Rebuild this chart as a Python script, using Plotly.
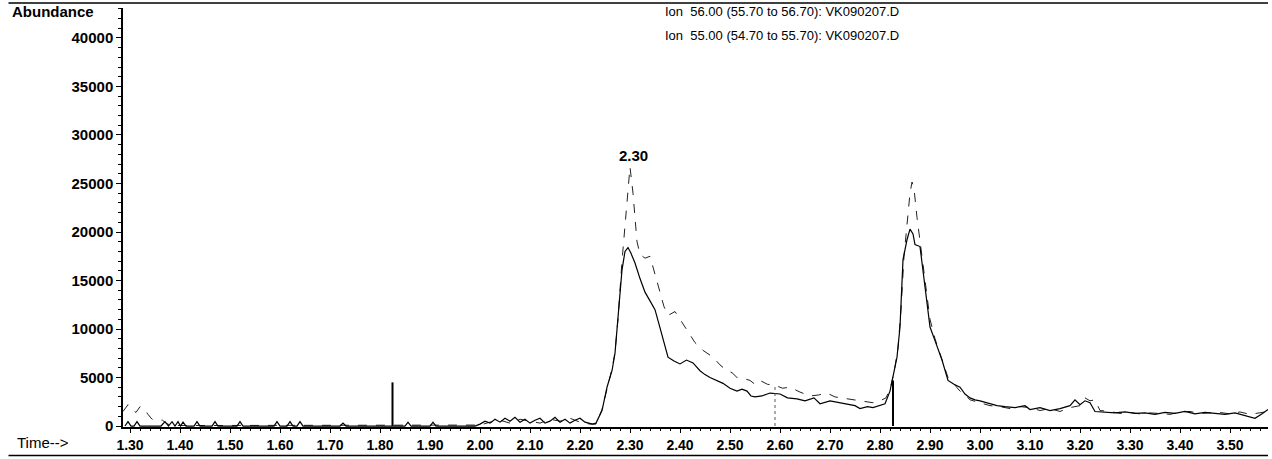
import plotly.graph_objects as go

# ---- data ----
ion55_time = [1.290, 1.296, 1.302, 1.308, 1.314, 1.320, 1.362, 1.370, 1.377, 1.384, 1.390, 1.396, 1.401,
              1.406, 1.412, 1.428, 1.434, 1.440, 1.464, 1.470, 1.476, 1.514, 1.520, 1.526, 1.588, 1.594,
              1.600, 1.614, 1.620, 1.626, 1.634, 1.640, 1.646, 1.720, 1.726, 1.732, 1.850, 1.856, 1.862,
              1.900, 1.906, 1.912, 1.990,
              2.00, 2.01, 2.02, 2.03, 2.04, 2.05, 2.06, 2.07, 2.08, 2.09, 2.10, 2.11, 2.12, 2.13, 2.14,
              2.15, 2.16, 2.17, 2.18, 2.19, 2.20, 2.21, 2.22, 2.225, 2.232,
              2.244, 2.254, 2.264, 2.270, 2.276, 2.284, 2.290, 2.296, 2.302, 2.31, 2.32, 2.33, 2.34, 2.35,
              2.358, 2.366, 2.376, 2.388, 2.40, 2.413, 2.426, 2.44, 2.45, 2.46, 2.473, 2.486, 2.50, 2.514,
              2.524, 2.534, 2.542, 2.55, 2.564, 2.58, 2.60, 2.615, 2.634, 2.65, 2.668, 2.68, 2.70, 2.72,
              2.734, 2.75, 2.76, 2.775, 2.786, 2.80, 2.81, 2.82, 2.826, 2.834, 2.84, 2.846, 2.854, 2.86,
              2.866, 2.87, 2.88, 2.89, 2.90, 2.91, 2.924, 2.936, 2.948, 2.96, 2.97, 2.98, 2.99, 3.00,
              3.02, 3.034, 3.05, 3.07, 3.09, 3.10, 3.12, 3.14, 3.16, 3.18, 3.19, 3.20, 3.21, 3.22, 3.23,
              3.25, 3.27, 3.29, 3.31, 3.33, 3.35, 3.37, 3.39, 3.41, 3.43, 3.45, 3.47, 3.49, 3.51, 3.53,
              3.55, 3.565, 3.576]
ion55_abund = [0, 450, 0, 0, 450, 0, 0, 450, 0, 450, 0, 450, 0,
               400, 0, 0, 450, 0, 0, 450, 0, 0, 450, 0, 0, 450,
               0, 0, 450, 0, 0, 450, 0, 0, 300, 0, 0, 400, 0,
               0, 400, 0, 0,
               200, 500, 300, 700, 400, 800, 500, 900, 400, 700, 300, 600, 800, 300, 500,
               900, 400, 700, 300, 600, 800, 400, 300, 200, 300,
               1600, 4000, 5700, 7500, 10900, 16100, 18000, 18400, 17800, 16800, 15200, 13800, 12900, 12000,
               10500, 9100, 7100, 6700, 6400, 6800, 6500, 5700, 5300, 5000, 4700, 4400, 3900, 3600,
               3800, 3600, 3100, 3000, 3100, 3400, 3300, 2900, 2800, 2600, 2900, 2300, 2600, 2400,
               2300, 2100, 1800, 2000, 1900, 2100, 2300, 3600, 5000, 7100, 10200, 17150, 19200, 20300,
               19800, 18700, 18500, 14500, 10200, 8800, 6800, 4700, 4300, 4000, 3300, 2900, 2700, 2600,
               2300, 2100, 2000, 1900, 2100, 1700, 1900, 1600, 1800, 2100, 2700, 2200, 2600, 2400, 1500,
               1400, 1350, 1450, 1300, 1350, 1200, 1400, 1300, 1500, 1250, 1400, 1300, 1200, 1350, 1100,
               800, 1300, 1700]

ion56_time = [1.286, 1.296, 1.304, 1.312, 1.320, 1.328, 1.336, 1.344, 1.355, 1.365, 1.372, 1.380,
              1.40, 1.60, 1.80, 2.00, 2.02, 2.04, 2.06, 2.08, 2.10, 2.12, 2.14, 2.16, 2.18, 2.20, 2.22,
              2.232, 2.244, 2.254, 2.264, 2.27, 2.276, 2.284, 2.292, 2.300, 2.306, 2.314, 2.32, 2.33,
              2.34, 2.35, 2.36, 2.368, 2.376, 2.39, 2.40, 2.406, 2.418, 2.43, 2.446, 2.466, 2.48, 2.494,
              2.504, 2.514, 2.527, 2.54, 2.55, 2.56, 2.575, 2.59, 2.605, 2.62, 2.64, 2.66, 2.677, 2.694,
              2.71, 2.734, 2.75, 2.77, 2.786, 2.80, 2.812, 2.82, 2.828, 2.836, 2.842, 2.848, 2.854,
              2.86, 2.864, 2.868, 2.874, 2.88, 2.89, 2.90, 2.91, 2.924, 2.936, 2.95, 2.96, 2.97, 2.98,
              3.00, 3.02, 3.04, 3.06, 3.08, 3.10, 3.12, 3.14, 3.16, 3.18, 3.20, 3.21, 3.22, 3.23, 3.24,
              3.26, 3.28, 3.30, 3.32, 3.34, 3.36, 3.38, 3.40, 3.42, 3.44, 3.46, 3.48, 3.50, 3.52, 3.54,
              3.56, 3.576]
ion56_abund = [1500, 2200, 1700, 1400, 2000, 1800, 1200, 700, 650, 600, 300, 100,
               50, 50, 50, 100, 400, 600, 300, 700, 500, 300, 700, 500, 800, 400, 200,
               200, 1700, 3900, 5900, 7600, 11000, 17000, 22000, 26700, 24000, 19000, 17700, 17300,
               17500, 15500, 13800, 12300, 11400, 11800, 11000, 10600, 9500, 8600, 7800, 7100, 6300, 5700,
               5500, 5000, 4900, 4700, 4300, 4700, 4300, 4200, 3900, 4000, 3500, 3100, 3200, 3400,
               3000, 2800, 2700, 2500, 2400, 2600, 2900, 3800, 5500, 8000, 12000, 17500, 21000,
               24000, 25150, 24500, 21500, 19000, 15000, 11000, 9000, 6900, 5000, 4200, 3600, 3200, 2700,
               2400, 2100, 2000, 1800, 2000, 1900, 1600, 1800, 1500, 1900, 2100, 2900, 2600, 2700, 1600,
               1500, 1300, 1400, 1250, 1350, 1300, 1200, 1450, 1500, 1300, 1350, 1400, 1250, 1450, 1200,
               1400, 1500]

marker_times = [1.825, 2.826]
marker_heights = [4500, 4700]
dashed_marker_time = 2.59
dashed_marker_height = 4300

peak_label_time = 2.30
peak_label_abund = 27900

y_tick_vals = [0, 5000, 10000, 15000, 20000, 25000, 30000, 35000, 40000]
y_tick_text = ["0", "5000", "10000", "15000", "20000", "25000", "30000", "35000", "40000"]
x_tick_vals = [1.30, 1.40, 1.50, 1.60, 1.70, 1.80, 1.90, 2.00, 2.10, 2.20, 2.30, 2.40,
               2.50, 2.60, 2.70, 2.80, 2.90, 3.00, 3.10, 3.20, 3.30, 3.40, 3.50]
x_tick_text = ["%.2f" % v for v in x_tick_vals]

title_lines = ["Ion  56.00 (55.70 to 56.70): VK090207.D",
               "Ion  55.00 (54.70 to 55.70): VK090207.D"]

FONT = "Liberation Sans, Arial, sans-serif"

fig = go.Figure()
fig.add_trace(go.Scatter(x=ion56_time, y=ion56_abund, mode="lines",
                         line=dict(color="#222222", width=1, dash="dash"),
                         name="Ion 56.00", showlegend=False))
fig.add_trace(go.Scatter(x=ion55_time, y=ion55_abund, mode="lines",
                         line=dict(color="#000000", width=1.2),
                         name="Ion 55.00", showlegend=False))
for t, h in zip(marker_times, marker_heights):
    fig.add_trace(go.Scatter(x=[t, t], y=[0, h], mode="lines",
                             line=dict(color="#000000", width=2), showlegend=False,
                             hoverinfo="skip"))
fig.add_trace(go.Scatter(x=[dashed_marker_time, dashed_marker_time], y=[0, dashed_marker_height],
                         mode="lines", line=dict(color="#555555", width=1, dash="dot"),
                         showlegend=False, hoverinfo="skip"))

fig.add_annotation(x=peak_label_time, y=peak_label_abund, text="<b>2.30</b>", showarrow=False,
                   xanchor="left", yanchor="middle", xshift=-13,
                   font=dict(family=FONT, size=15, color="#000000"))

for i, line in enumerate(title_lines):
    fig.add_annotation(xref="paper", yref="paper", x=0.4716, y=[0.992, 0.934][i],
                       text=line, showarrow=False, xanchor="left", yanchor="middle",
                       font=dict(family=FONT, size=13, color="#000000"))

fig.add_annotation(xref="paper", yref="paper", x=-0.0987, y=0.992, text="<b>Abundance</b>",
                   showarrow=False, xanchor="left", yanchor="middle",
                   font=dict(family=FONT, size=15, color="#000000"))
fig.add_annotation(xref="paper", yref="paper", x=-0.094, y=-0.038, text="Time-->",
                   showarrow=False, xanchor="left", yanchor="middle",
                   font=dict(family=FONT, size=15, color="#000000"))

# page border rules (top and bottom)
fig.add_shape(type="line", xref="paper", yref="paper", x0=-0.1, x1=1.0, y0=1.012, y1=1.012,
              line=dict(color="#000000", width=1.5))
fig.add_shape(type="line", xref="paper", yref="paper", x0=-0.1, x1=1.0, y0=-0.068, y1=-0.068,
              line=dict(color="#000000", width=1.5))

fig.update_xaxes(range=[1.286, 3.576], tickvals=x_tick_vals, ticktext=x_tick_text,
                 ticks="outside", ticklen=4, tickcolor="#000", showline=True, linecolor="#000",
                 linewidth=1.5, showgrid=False, zeroline=False, mirror=False, automargin=False,
                 tickfont=dict(family=FONT, size=14, color="#000000", weight="bold"),
                 minor=dict(dtick=0.02, ticks="outside", ticklen=2, tickcolor="#000"))
fig.update_yaxes(range=[-100, 43090], tickvals=y_tick_vals, ticktext=y_tick_text,
                 ticks="outside", ticklen=5, tickcolor="#000", showline=True, linecolor="#000",
                 linewidth=1.5, showgrid=False, zeroline=False, automargin=False,
                 tickfont=dict(family=FONT, size=15, color="#000000", weight="bold"),
                 minor=dict(dtick=1000, ticks="outside", ticklen=3, tickcolor="#000"))

fig.update_layout(width=1272, height=459, margin=dict(l=123, r=4, t=8, b=32),
                  plot_bgcolor="#ffffff", paper_bgcolor="#ffffff", showlegend=False)

fig.write_html("out.html", config={"displayModeBar": False},
               post_script="document.body.style.margin='0';document.body.style.overflow='hidden';")
